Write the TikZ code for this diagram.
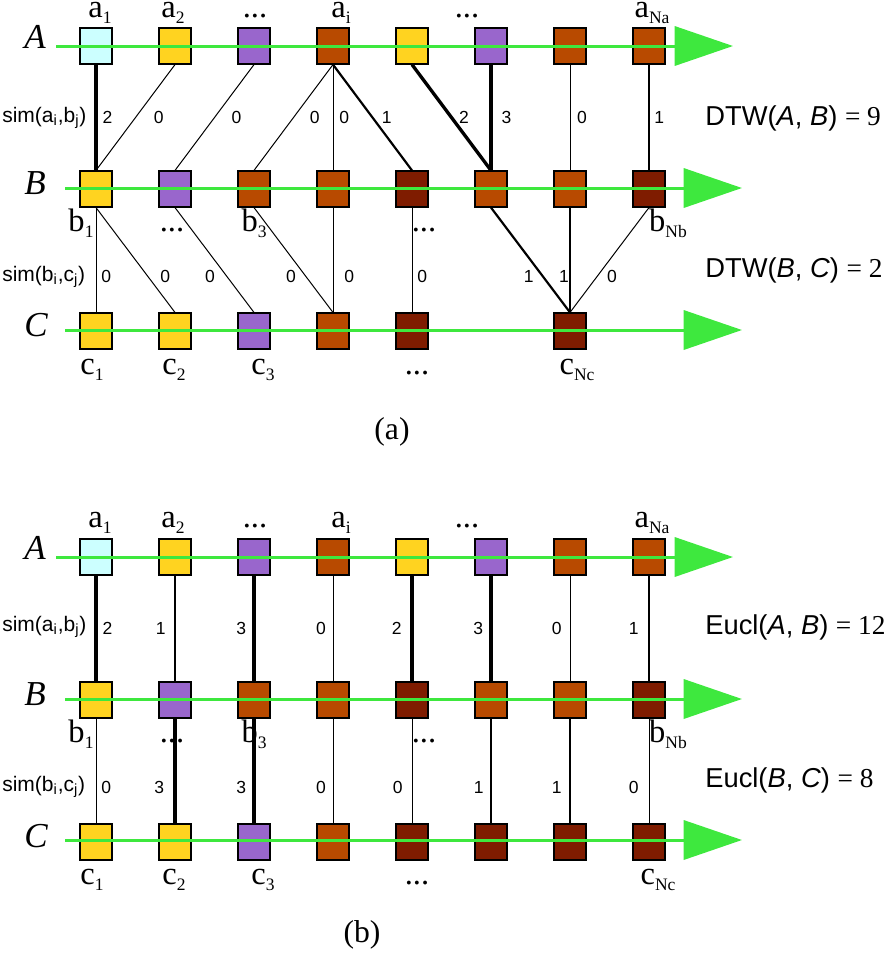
\documentclass[tikz,border=0pt]{standalone}
\usepackage{fontspec}
\setmainfont{Liberation Serif}
\setsansfont{Liberation Sans}
\usetikzlibrary{arrows.meta}

\definecolor{cellcyan}{HTML}{CCFFFF}
\definecolor{cellyellow}{HTML}{FFD320}
\definecolor{cellpurple}{HTML}{9966CC}
\definecolor{cellorange}{HTML}{B84A00}
\definecolor{celldark}{HTML}{7F1C00}
\definecolor{timegreen}{HTML}{3EE83E}

% small lowered index for the element names
\newcommand{\lsub}[1]{\raisebox{-0.2em}{\fontsize{10.5}{11}\selectfont #1}}

\tikzset{
  cell/.style={draw, line width=0.7pt, inner sep=0pt, minimum width=19.2pt, minimum height=21.6pt, fill=#1},
  series/.style={timegreen, line width=1.8pt, -{Triangle[length=35pt,width=23.5pt]}},
  wl/.style={font=\sffamily\fontsize{10.5}{12}\selectfont, inner sep=0pt},
  seqname/.style={font=\fontsize{21}{24}\selectfont\itshape, anchor=base},
  elname/.style={font=\fontsize{19.5}{21}\selectfont, anchor=base, inner sep=0pt},
  simtxt/.style={font=\sffamily\fontsize{12.6}{14}\selectfont, anchor=west, inner sep=0pt},
  distxt/.style={font=\sffamily\fontsize{16.4}{19}\selectfont, anchor=west, inner sep=0pt},
}

\begin{document}
\begin{tikzpicture}[x=0.6pt, y=-0.6pt]
  \useasboundingbox (0,0) rectangle (887,955);

  % (a) DTW
  \foreach \c [count=\i] in {cellcyan,cellyellow,cellpurple,cellorange,cellyellow,cellpurple,cellorange,cellorange}
    \node[cell=\c] (dA\i) at ({17+79*\i},46) {};
  \foreach \c [count=\i] in {cellyellow,cellpurple,cellorange,cellorange,celldark,cellorange,cellorange,celldark}
    \node[cell=\c] (dB\i) at ({17+79*\i},189) {};
  \foreach \c/\i in {cellyellow/1,cellyellow/2,cellpurple/3,cellorange/4,celldark/5,celldark/7}
    \node[cell=\c] (dC\i) at ({17+79*\i},331) {};

  \foreach \s/\t/\w/\v/\a/\d in {1/1/2.2/2/west/2.9, 2/1/0.6/0/west/10.7, 3/2/0.6/0/west/10,
      4/3/0.6/0/west/9.5, 4/4/0.6/0/west/3.5, 4/5/1.3/1/west/5, 5/6/2/2/west/3.5,
      6/6/2.6/3/west/5, 7/7/0.6/0/west/4, 8/8/1.3/1/west/2.6}
    \draw[line width=\w pt] (dA\s.south) -- node[wl, anchor=\a, xshift=\d pt] {\v} (dB\t.north);
  \foreach \s/\t/\w/\v/\a/\d in {1/1/0.6/0/west/2.9, 1/2/0.6/0/west/7, 2/3/0.6/0/east/-7,
      3/4/0.6/0/east/-5.9, 4/4/0.6/0/west/6.5, 5/5/0.6/0/west/2.9, 6/7/1.3/1/east/-5,
      7/7/1.3/1/east/0, 8/7/0.6/0/west/5.9}
    \draw[line width=\w pt] (dB\s.south) -- node[wl, pos=.66, anchor=\a, xshift=\d pt] {\v} (dC\t.north);

  \coordinate (dAs) at (56,46);  \coordinate (dAe) at (733,46);
  \coordinate (dBs) at (65,188); \coordinate (dBe) at (742,188);
  \coordinate (dCs) at (65,330); \coordinate (dCe) at (742,330);
  \draw[series] (dAs) -- (dAe);
  \draw[series] (dBs) -- (dBe);
  \draw[series] (dCs) -- (dCe);

  \node[seqname] (dnA) at (35,48) {A};
  \node[seqname] (dnB) at (35,194) {B};
  \node[seqname] (dnC) at (36,336) {C};

  \node[elname] (da1) at (100,17) {a\lsub{1}};
  \node[elname] (da2) at (173,17) {a\lsub{2}};
  \node[elname] (da3) at (255,17) {...};
  \node[elname] (dai) at (341,17) {a\lsub{i}};
  \node[elname] (da6) at (467,17) {...};
  \node[elname] (daN) at (652,17) {a\lsub{Na}};
  \node[elname] (db1) at (81,231) {b\lsub{1}};
  \node[elname] (db2) at (172,231) {...};
  \node[elname] (db3) at (254,231) {b\lsub{3}};
  \node[elname] (db5) at (424,231) {...};
  \node[elname] (dbN) at (668,231) {b\lsub{Nb}};
  \node[elname] (dc1) at (92,374) {c\lsub{1}};
  \node[elname] (dc2) at (174,374) {c\lsub{2}};
  \node[elname] (dc3) at (263,374) {c\lsub{3}};
  \node[elname] (dc5) at (417,374) {...};
  \node[elname] (dcN) at (577,374) {c\lsub{Nc}};

  \node[simtxt] (dsimab) at (2,118) {sim(a\textsubscript{i},b\textsubscript{j})};
  \node[simtxt] (dsimbc) at (2,277) {sim(b\textsubscript{i},c\textsubscript{j})};
  \node[distxt] (dtwab) at (705,118) {DTW(\textit{A}, \textit{B}) \textrm{= 9}};
  \node[distxt] (dtwbc) at (705,270) {DTW(\textit{B}, \textit{C}) \textrm{= 2}};
  \node[font=\fontsize{19}{21}\selectfont] (capa) at (392,432) {(a)};

  % (b) Euclidean
  \foreach \c [count=\i] in {cellcyan,cellyellow,cellpurple,cellorange,cellyellow,cellpurple,cellorange,cellorange}
    \node[cell=\c] (eA\i) at ({17+79*\i},557) {};
  \foreach \c [count=\i] in {cellyellow,cellpurple,cellorange,cellorange,celldark,cellorange,cellorange,celldark}
    \node[cell=\c] (eB\i) at ({17+79*\i},700) {};
  \foreach \c [count=\i] in {cellyellow,cellyellow,cellpurple,cellorange,celldark,celldark,celldark,celldark}
    \node[cell=\c] (eC\i) at ({17+79*\i},842) {};

  \foreach \s/\w/\v/\a/\d in {1/2.2/2/west/2.9, 2/1.3/1/east/-5, 3/2.6/3/east/-3.5, 4/0.6/0/east/-4,
      5/2/2/east/-5.3, 6/2.6/3/east/-3.5, 7/0.6/0/east/-4.7, 8/1.3/1/east/-5.6}
    \draw[line width=\w pt] (eA\s.south) -- node[wl, anchor=\a, xshift=\d pt] {\v} (eB\s.north);
  \foreach \s/\w/\v/\a/\d in {1/0.6/0/west/2.9, 2/2.6/3/east/-5.3, 3/2.6/3/east/-3.5, 4/0.6/0/east/-4,
      5/0.6/0/east/-5.3, 6/1.3/1/east/-3.8, 7/1.3/1/east/-4.4, 8/0.6/0/east/-5.9}
    \draw[line width=\w pt] (eB\s.south) -- node[wl, pos=.66, anchor=\a, xshift=\d pt] {\v} (eC\s.north);

  \coordinate (eAs) at (56,557);  \coordinate (eAe) at (733,557);
  \coordinate (eBs) at (65,699);  \coordinate (eBe) at (742,699);
  \coordinate (eCs) at (65,840);  \coordinate (eCe) at (742,840);
  \draw[series] (eAs) -- (eAe);
  \draw[series] (eBs) -- (eBe);
  \draw[series] (eCs) -- (eCe);

  \node[seqname] (enA) at (35,559) {A};
  \node[seqname] (enB) at (35,705) {B};
  \node[seqname] (enC) at (36,847) {C};

  \node[elname] (ea1) at (100,527) {a\lsub{1}};
  \node[elname] (ea2) at (173,527) {a\lsub{2}};
  \node[elname] (ea3) at (255,527) {...};
  \node[elname] (eai) at (341,527) {a\lsub{i}};
  \node[elname] (ea6) at (467,527) {...};
  \node[elname] (eaN) at (652,527) {a\lsub{Na}};
  \node[elname] (eb1) at (81,742) {b\lsub{1}};
  \node[elname] (eb2) at (172,742) {...};
  \node[elname] (eb3) at (254,742) {b\lsub{3}};
  \node[elname] (eb5) at (424,742) {...};
  \node[elname] (ebN) at (668,742) {b\lsub{Nb}};
  \node[elname] (ec1) at (92,884) {c\lsub{1}};
  \node[elname] (ec2) at (174,884) {c\lsub{2}};
  \node[elname] (ec3) at (263,884) {c\lsub{3}};
  \node[elname] (ec5) at (417,884) {...};
  \node[elname] (ecN) at (658,884) {c\lsub{Nc}};

  \node[simtxt] (esimab) at (2,627) {sim(a\textsubscript{i},b\textsubscript{j})};
  \node[simtxt] (esimbc) at (2,787) {sim(b\textsubscript{i},c\textsubscript{j})};
  \node[distxt] (euclab) at (705,627) {Eucl(\textit{A}, \textit{B}) \textrm{= 12}};
  \node[distxt] (euclbc) at (705,780) {Eucl(\textit{B}, \textit{C}) \textrm{= 8}};
  \node[font=\fontsize{19}{21}\selectfont] (capb) at (362,935) {(b)};
\end{tikzpicture}
\end{document}
